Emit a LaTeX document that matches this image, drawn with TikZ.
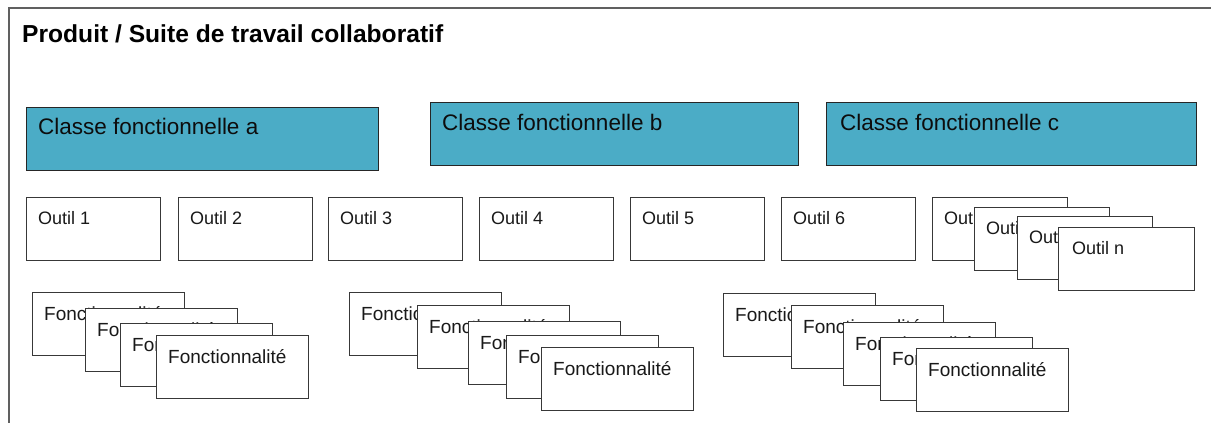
\documentclass[tikz,border=0pt]{standalone}
\usepackage{fontspec}
\setmainfont{Liberation Sans}
\usetikzlibrary{calc}
\definecolor{clsfill}{HTML}{4BACC6}
\definecolor{bxline}{HTML}{383838}
\definecolor{frameline}{HTML}{606060}
\tikzset{
  boxshape/.style={draw=bxline, line width=1.3pt, fill=white, inner sep=0pt, anchor=north west},
  clsshape/.style={draw=black!85, line width=1.3pt, fill=clsfill, inner sep=0pt, anchor=north west},
  outiltxt/.style={inner sep=0pt, anchor=base west, text=black!90, font=\fontsize{18}{20}\selectfont},
  fcttxt/.style={inner sep=0pt, anchor=base west, text=black!90, font=\fontsize{19}{21}\selectfont},
  clstxt/.style={inner sep=0pt, anchor=base west, text=black!95, font=\fontsize{22.5}{25}\selectfont},
  titletxt/.style={inner sep=0pt, anchor=base west, text=black, font=\bfseries\fontsize{24.6}{28}\selectfont},
  frameline/.style={draw=frameline, line width=2pt}
}
% #1 name, #2 position, #3 width, #4 height, #5 box style, #6 text style, #7 dx, #8 dy, #9 text
\newcommand{\bx}[9]{%
  \node[#5, minimum width=#3pt, minimum height=#4pt] (#1) at (#2) {};
  \node[#6] (#1t) at ($(#1.north west)+(#7,#8)$) {#9};
}
\begin{document}
\begin{tikzpicture}[x=1pt,y=-1pt]
\useasboundingbox (0,0) rectangle (1211,423);
\draw[frameline] (9,424) -- (9,8) -- (1212,8);
\node[titletxt] (title) at (22,42) {Produit / Suite de travail collaboratif};

% functional classes
\bx{ca}{26,107}{352}{63}{clsshape}{clstxt}{12}{27}{Classe fonctionnelle a}
\bx{cb}{430,102}{368}{63}{clsshape}{clstxt}{12}{28}{Classe fonctionnelle b}
\bx{cc}{826,102}{370}{63}{clsshape}{clstxt}{14}{28}{Classe fonctionnelle c}

% tools
\bx{o1}{26,197}{134}{63}{boxshape}{outiltxt}{12}{27}{Outil 1}
\bx{o2}{178,197}{134}{63}{boxshape}{outiltxt}{12}{27}{Outil 2}
\bx{o3}{328,197}{134}{63}{boxshape}{outiltxt}{12}{27}{Outil 3}
\bx{o4}{479,197}{134}{63}{boxshape}{outiltxt}{12}{27}{Outil 4}
\bx{o5}{630,197}{134}{63}{boxshape}{outiltxt}{12}{27}{Outil 5}
\bx{o6}{781,197}{134}{63}{boxshape}{outiltxt}{12}{27}{Outil 6}
\bx{on1}{932,197}{135}{63}{boxshape}{outiltxt}{12}{27}{Outil n}
\bx{on2}{974,207}{135}{63}{boxshape}{outiltxt}{12}{27}{Outil n}
\bx{on3}{1017,216}{135}{63}{boxshape}{outiltxt}{12}{27}{Outil n}
\bx{on4}{1058,227}{136}{63}{boxshape}{outiltxt}{14}{27}{Outil n}

% functionalities, group a
\bx{fa1}{32,292}{152}{63}{boxshape}{fcttxt}{12}{28}{Fonctionnalité}
\bx{fa2}{85,308}{152}{63}{boxshape}{fcttxt}{12}{28}{Fonctionnalité}
\bx{fa3}{120,323}{152}{63}{boxshape}{fcttxt}{12}{28}{Fonctionnalité}
\bx{fa4}{156,335}{152}{63}{boxshape}{fcttxt}{12}{28}{Fonctionnalité}

% functionalities, group b
\bx{fb1}{349,292}{152}{63}{boxshape}{fcttxt}{12}{28}{Fonctionnalité}
\bx{fb2}{417,305}{152}{63}{boxshape}{fcttxt}{12}{28}{Fonctionnalité}
\bx{fb3}{468,321}{152}{63}{boxshape}{fcttxt}{12}{28}{Fonctionnalité}
\bx{fb4}{506,335}{152}{63}{boxshape}{fcttxt}{12}{28}{Fonctionnalité}
\bx{fb5}{541,347}{152}{63}{boxshape}{fcttxt}{12}{28}{Fonctionnalité}

% functionalities, group c
\bx{fc1}{723,293}{152}{63}{boxshape}{fcttxt}{12}{28}{Fonctionnalité}
\bx{fc2}{791,305}{152}{63}{boxshape}{fcttxt}{12}{28}{Fonctionnalité}
\bx{fc3}{843,322}{152}{63}{boxshape}{fcttxt}{12}{28}{Fonctionnalité}
\bx{fc4}{880,337}{152}{63}{boxshape}{fcttxt}{12}{28}{Fonctionnalité}
\bx{fc5}{916,348}{152}{63}{boxshape}{fcttxt}{12}{28}{Fonctionnalité}
\end{tikzpicture}
\end{document}
